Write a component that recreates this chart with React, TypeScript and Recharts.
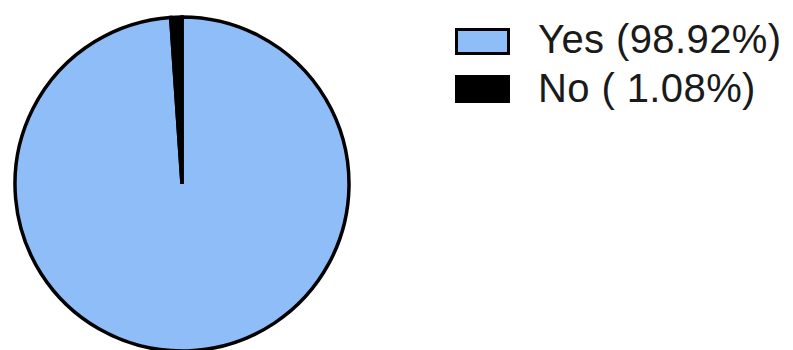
import { Cell, Legend, Pie, PieChart } from "recharts";

const labels = ["Yes", "No"];
const percents = [98.92, 1.08];
const fills = ["#8fbdf8", "#000000"];

const slices = labels.map((name, i) => ({ name, value: percents[i] }));

function legendText(name: string, pct: number) {
  const s = pct.toFixed(2);
  return `${name} (${s.length < 5 ? " " : ""}${s}%)`;
}

function PieLegend() {
  return (
    <svg width={336} height={110} style={{ display: "block", overflow: "visible" }}>
      {slices.map((d, i) => {
        const top = 18 + i * 47;
        return (
          <g key={d.name}>
            {i === 0 ? (
              <rect x={1.5} y={top + 1.5} width={52} height={24} fill={fills[i]} stroke="#000" strokeWidth={3} />
            ) : (
              <rect x={0} y={top} width={55} height={28} fill={fills[i]} />
            )}
            <text
              x={83}
              y={43 + i * 49}
              fontFamily="'Liberation Sans', Arial, sans-serif"
              fontSize={40}
              letterSpacing={0.4}
              fill="#1a1a1a"
              style={{ whiteSpace: "pre" }}
            >
              {legendText(d.name, d.value)}
            </text>
          </g>
        );
      })}
    </svg>
  );
}

export default function App() {
  return (
    <div style={{ position: "absolute", left: 0, top: 0, background: "#fff" }}>
      <PieChart width={793} height={350} margin={{ top: 0, right: 0, bottom: 0, left: 0 }}>
        <Pie
          data={slices}
          dataKey="value"
          nameKey="name"
          cx={182}
          cy={184}
          outerRadius={167}
          startAngle={90}
          endAngle={-270}
          stroke="#000"
          strokeWidth={3.5}
          isAnimationActive={false}
        >
          {slices.map((d, i) => (
            <Cell key={d.name} fill={fills[i]} />
          ))}
        </Pie>
        <Legend
          layout="vertical"
          content={() => <PieLegend />}
          wrapperStyle={{ left: 455, top: 10, width: 336 }}
        />
      </PieChart>
    </div>
  );
}
